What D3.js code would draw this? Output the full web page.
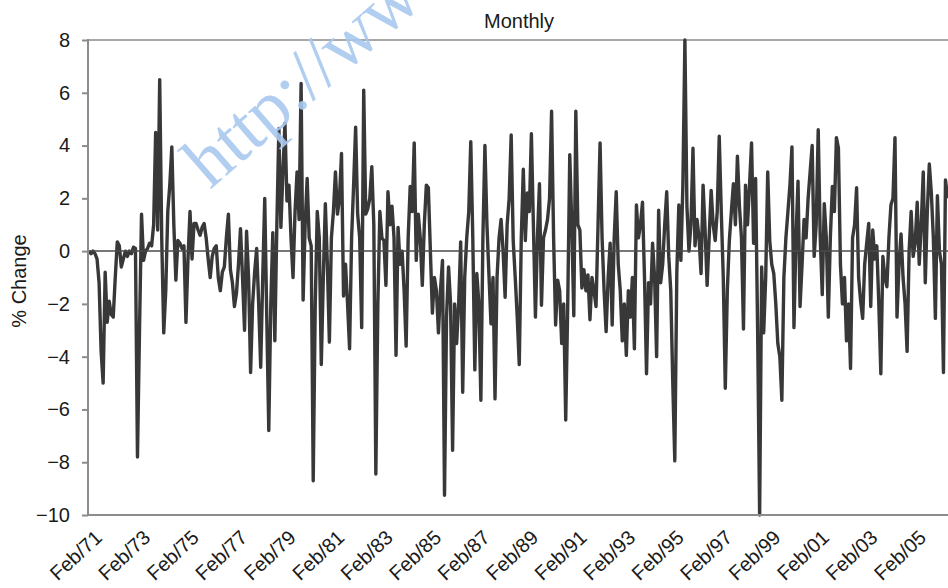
<!DOCTYPE html>
<html>
<head>
<meta charset="utf-8">
<script src="https://cdn.jsdelivr.net/npm/d3@7"></script>
<style>
  body { margin: 0; background: #fff; }
  #viz svg { display: block; font-family: "Liberation Sans", Arial, sans-serif; }
</style>
</head>
<body>
<div id="viz"></div>
<script>
// monthly % change, first value = Feb 1971
const pctChange = [
  0.0, -0.1, 0.0, -0.1, -0.3, -1.2, -3.8, -5.0, -0.8, -2.7, -1.9, -2.4,
  -2.5, -1.0, 0.35, 0.2, -0.6, -0.3, 0.0, -0.2, 0.0, -0.1, 0.15, 0.1,
  -7.8, -3.0, 1.4, -0.35, 0.0, 0.1, 0.3, 0.2, 1.0, 4.5, 0.8, 6.5,
  0.5, -3.1, -1.5, 1.5, 2.5, 3.95, 1.0, -1.1, 0.4, 0.3, 0.1, 0.2,
  -2.7, -0.3, 1.5, -0.3, 1.05, 1.05, 0.8, 0.6, 0.9, 1.05, 0.5, -0.3,
  -1.0, -0.2, 0.1, 0.2, -1.0, -1.5, -0.8, -0.6, 0.5, 1.4, -0.7, -1.2,
  -2.1, -1.6, -0.5, 0.85, -1.0, -3.0, 0.75, -1.0, -4.6, -2.0, -0.8, 0.1,
  -2.0, -4.4, -1.0, 2.0, -2.5, -6.8, -2.0, 0.7, -3.4, 1.0, 4.65, 0.9,
  3.0, 4.85, 1.9, 2.5, 0.5, -1.0, 1.5, 3.0, 1.2, 6.35, -1.85, 1.0,
  2.75, 0.5, 0.2, -8.7, -2.0, 1.5, 0.5, -4.3, -1.0, 1.8, -0.5, -3.45,
  0.5, 1.5, 3.0, 1.4, 2.0, 3.7, -1.7, -0.5, -2.0, -3.7, 0.5, 2.5,
  4.7, 1.4, 0.5, -2.9, 6.1, 1.4, 1.6, 2.0, 3.2, 1.0, -8.45, -2.0,
  1.5, 0.5, 0.4, -1.3, 2.25, 1.0, 1.7, 0.5, -3.95, 0.9, -0.5, 0.0,
  -1.5, -3.6, 0.5, 2.45, 1.5, 4.1, -0.35, 1.4, 0.5, -1.3, 1.0, 2.5,
  2.4, 0.0, -2.35, -1.0, -1.5, -3.1, -1.5, -0.35, -9.25, -2.5, -0.6, -2.0,
  -7.55, -2.0, -3.5, -2.0, 0.35, -5.35, -1.0, 0.5, 1.5, 4.15, 0.5, -4.5,
  -0.85, -2.0, -5.65, 0.5, 4.0, 1.0, -0.9, -2.75, -1.0, -5.6, -1.0, 0.5,
  1.2, 0.0, -1.75, 1.0, 2.0, 4.4, 0.4, -1.0, -2.5, -4.3, 0.5, 3.1,
  0.4, 2.2, 1.5, 4.45, 1.0, -2.5, 0.5, 2.55, -2.05, 0.5, 0.8, 1.2,
  2.0, 5.3, 0.5, -2.8, -1.1, -1.5, -3.5, -2.0, -6.4, -2.0, 3.65, 1.0,
  -2.45, 5.3, 1.0, 0.8, -1.4, -0.7, -1.5, -0.9, -2.6, -1.0, -1.5, -2.1,
  1.0, 4.1, 0.5, -1.5, -3.05, -1.0, 0.3, -2.8, 0.5, 2.25, -0.5, -1.5,
  -3.4, -2.0, -3.95, -1.5, -2.5, -1.0, -3.7, 1.75, 0.5, 1.0, 1.85, -1.0,
  -4.65, -1.2, -2.0, 0.3, -1.0, -4.0, 1.55, -1.2, -0.5, 1.0, 2.25, -0.2,
  -1.5, -5.0, -7.95, -0.8, 1.75, -0.35, 2.5, 8.0, 1.7, 0.0, 1.0, 3.9,
  0.2, 1.2, 0.5, -0.85, 2.5, 0.8, -1.3, 0.5, 2.3, 1.0, 0.4, 1.5,
  4.35, 1.5, -1.0, -5.2, -1.5, 0.4, 1.5, 2.55, 1.0, 3.6, 1.7, 0.5,
  -2.95, 2.5, 1.0, 2.5, 4.1, 0.3, 2.75, -3.0, -10.0, -0.6, -3.1, -1.0,
  3.0, 0.4, -0.5, -0.85, -2.0, -3.5, -4.0, -5.65, -1.0, 0.5, 1.5, 2.5,
  3.95, -2.9, 0.5, 2.65, -2.1, -0.5, 1.2, 0.5, 2.0, 3.0, 4.0, -0.2,
  1.0, 4.6, 0.5, -1.65, 1.8, 0.5, -2.5, 0.5, 2.45, 1.5, 4.3, 3.9,
  -0.5, -2.0, -1.0, -3.4, -2.0, -4.45, 0.5, 1.0, 2.4, -1.0, -1.9, -2.55,
  -0.5, 0.3, 1.05, -2.1, 0.8, -0.3, 0.2, -2.0, -4.65, -0.2, -1.0, -1.35,
  0.5, 1.75, 2.0, 4.3, -2.5, -0.5, 0.65, -1.0, -2.0, -3.8, 0.0, 1.5,
  -0.2, 0.3, 1.85, -0.5, 1.0, 3.0, -1.2, 1.5, 3.3, 2.2, 0.5, -2.55,
  2.1, 0.0, -0.5, -4.6, 2.7, 2.0
]
const xTickLabels = ['Feb/71', 'Feb/73', 'Feb/75', 'Feb/77', 'Feb/79', 'Feb/81', 'Feb/83', 'Feb/85', 'Feb/87',
  'Feb/89', 'Feb/91', 'Feb/93', 'Feb/95', 'Feb/97', 'Feb/99', 'Feb/01', 'Feb/03', 'Feb/05']
const xTickMonths = xTickLabels.map((d, i) => i * 24)
const yTicks = [-10, -8, -6, -4, -2, 0, 2, 4, 6, 8]

const width = 948
const height = 588
const margin = { top: 40, right: -2, bottom: 73, left: 88 }
const plotW = width - margin.left - margin.right
const plotH = height - margin.top - margin.bottom

const svg = d3.select('#viz')
  .append('svg')
  .attr('width', width)
  .attr('height', height)

const g = svg.append('g')
  .attr('transform', `translate(${margin.left}, ${margin.top})`)

const x = d3.scaleLinear()
  .domain([0, 425.5])
  .range([1, 1 + 2.02 * 425.5])

const y = d3.scaleLinear()
  .domain([-10, 8])
  .range([plotH, 0])

// top border of plot area
g.append('line')
  .attr('x1', 0).attr('x2', plotW)
  .attr('y1', 0).attr('y2', 0)
  .attr('stroke', '#a8a8a8')
  .attr('stroke-width', 2)

// data line
const line = d3.line()
  .x((d, i) => x(i))
  .y(d => y(d))

g.append('path')
  .datum(pctChange)
  .attr('d', line)
  .attr('fill', 'none')
  .attr('stroke', '#383838')
  .attr('stroke-width', 3.4)
  .attr('stroke-linejoin', 'round')

// zero line
g.append('line')
  .attr('x1', 0).attr('x2', plotW)
  .attr('y1', y(0)).attr('y2', y(0))
  .attr('stroke', '#4a4a4a')
  .attr('stroke-width', 1.5)

// y axis
const yAxis = g.append('g')
  .attr('class', 'y axis')
  .call(d3.axisLeft(y).tickValues(yTicks).tickSize(6).tickPadding(12)
    .tickFormat(d => d < 0 ? '\u2212' + Math.abs(d) : d))

yAxis.select('.domain')
  .attr('stroke', '#8c8c8c')
  .attr('stroke-width', 2)
  .attr('d', `M0,${plotH + 1}V-1`)
yAxis.selectAll('.tick line')
  .attr('stroke', '#8c8c8c')
  .attr('stroke-width', 2)
yAxis.selectAll('.tick text')
  .attr('font-size', 20)
  .attr('fill', '#1a1a1a')
  .attr('font-family', '"Liberation Sans", Arial, sans-serif')

// x axis
const xAxis = g.append('g')
  .attr('class', 'x axis')
  .attr('transform', `translate(0, ${plotH})`)
  .call(d3.axisBottom(x).tickValues(xTickMonths).tickSize(0)
    .tickFormat((d, i) => xTickLabels[i]))

xAxis.select('.domain')
  .attr('stroke', '#8c8c8c')
  .attr('stroke-width', 2)
  .attr('d', `M-1,0H${plotW}`)
xAxis.selectAll('.tick text')
  .attr('font-size', 20)
  .attr('fill', '#1a1a1a')
  .attr('font-family', '"Liberation Sans", Arial, sans-serif')
  .attr('text-anchor', 'end')
  .attr('x', 0)
  .attr('y', 0)
  .attr('dy', '0.35em')
  .attr('transform', 'translate(9, 19) rotate(-43)')

// title and axis label
svg.append('text')
  .text('Monthly')
  .attr('x', 519)
  .attr('y', 28)
  .attr('text-anchor', 'middle')
  .attr('font-size', 20)
  .attr('fill', '#1a1a1a')

svg.append('text')
  .text('% Change')
  .attr('text-anchor', 'middle')
  .attr('transform', 'translate(26, 281) rotate(-90)')
  .attr('font-size', 20)
  .attr('fill', '#1a1a1a')

// watermark
svg.append('text')
  .text('http://www')
  .attr('transform', 'translate(210, 190) rotate(-41)')
  .attr('font-family', '"Liberation Serif", "DejaVu Serif", serif')
  .attr('font-size', 74)
  .attr('fill', '#a9c9f0')
  .attr('opacity', 0.9)
</script>
</body>
</html>
